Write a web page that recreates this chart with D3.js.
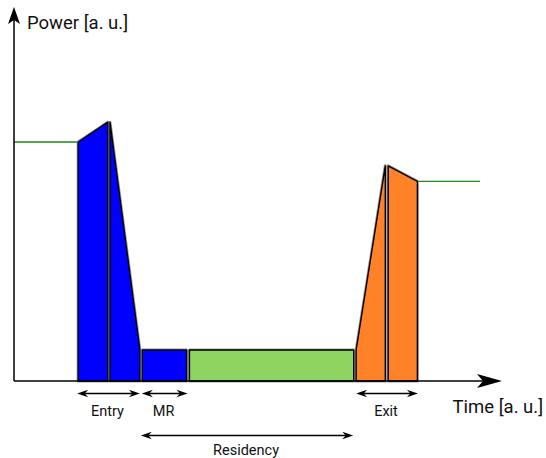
<!DOCTYPE html>
<html>
<head>
<meta charset="utf-8">
<script src="https://cdn.jsdelivr.net/npm/d3@7"></script>
<style>
  html, body { margin: 0; padding: 0; background: #fff; }
  svg { display: block; font-family: Roboto, "Noto Sans", sans-serif; }
</style>
</head>
<body>
<svg id="chart" width="546" height="458"></svg>
<script>
// ---- data (arbitrary units: time 0..100, power 0..100) ----
const phaseNames   = ["Entry 1", "Entry 2", "MR", "Residency", "Exit 1", "Exit 2"];
const phaseStart   = [13.2, 19.75, 26.4, 36.1, 70.4, 77.0];
const phaseEnd     = [19.3, 25.9, 35.5, 69.9, 76.4, 83.0];
const powerStart   = [66.2, 71.7, 8.6, 8.6, 8.6, 59.6];
const powerEnd     = [71.7, 8.6, 8.6, 8.6, 59.6, 55.3];
const phaseColor   = ["#0000ff", "#0000ff", "#0000ff", "#8fd460", "#ff8128", "#ff8128"];

const idleStart = [0, 83.0];
const idleEnd   = [13.2, 95.9];
const idlePower = [66.2, 55.3];

const spanLabels = ["Entry", "MR", "Residency", "Exit"];
const spanStart  = [13.0, 26.3, 26.1, 70.4];
const spanEnd    = [25.9, 35.7, 69.8, 83.1];
const spanRow    = [0, 0, 1, 0];

const axisLabels = ["Time [a. u.]", "Power [a. u.]"];

// ---- scales ----
const svg = d3.select("#chart");
const x = d3.scaleLinear().domain([0, 100]).range([14, 500]);
const y = d3.scaleLinear().domain([0, 100]).range([381, 20]);
const rowY = d3.scalePoint().domain([0, 1]).range([393.5, 435.5]);
const labelY = d3.scalePoint().domain([0, 1]).range([416, 454.5]);

// ---- idle lines ----
svg.selectAll("line.idle").data(idleStart).join("line")
  .attr("class", "idle")
  .attr("x1", (d, i) => x(d)).attr("x2", (d, i) => x(idleEnd[i]))
  .attr("y1", (d, i) => y(idlePower[i])).attr("y2", (d, i) => y(idlePower[i]))
  .attr("stroke", "#1a8a1a").attr("stroke-width", 1.4);

// ---- phase polygons ----
const polys = phaseNames.map((n, i) => [
  [x(phaseStart[i]), y(0)],
  [x(phaseStart[i]), y(powerStart[i])],
  [x(phaseEnd[i]), y(powerEnd[i])],
  [x(phaseEnd[i]), y(0)]
]);
const line = d3.line();
svg.selectAll("path.halo").data(polys).join("path")
  .attr("class", "halo")
  .attr("d", d => line(d) + "Z")
  .attr("fill", "none").attr("stroke", "#9a9a9a").attr("stroke-width", 3).attr("stroke-linejoin", "round");
svg.selectAll("path.phase").data(polys).join("path")
  .attr("class", "phase")
  .attr("d", d => line(d) + "Z")
  .attr("fill", (d, i) => phaseColor[i])
  .attr("stroke", "#000").attr("stroke-width", 1.4).attr("stroke-linejoin", "round");

// ---- axes with arrowheads ----
function arrowHead(tx, ty, dx, dy, len, half, notch) {
  const px = -dy, py = dx;
  const bx = tx - dx * len, by = ty - dy * len;
  const nx = tx - dx * (len - notch), ny = ty - dy * (len - notch);
  return `M${tx},${ty}L${bx + px * half},${by + py * half}L${nx},${ny}L${bx - px * half},${by - py * half}Z`;
}

svg.append("line")
  .attr("x1", x(0)).attr("x2", x(0)).attr("y1", y(0)).attr("y2", y(100) - 6)
  .attr("stroke", "#000").attr("stroke-width", 1.5);
svg.append("path").attr("d", arrowHead(x(0), y(100) - 13, 0, -1, 17, 6, 4)).attr("fill", "#000");

svg.append("line")
  .attr("x1", x(0)).attr("x2", x(100) - 6).attr("y1", y(0)).attr("y2", y(0))
  .attr("stroke", "#000").attr("stroke-width", 1.5);
svg.append("path").attr("d", arrowHead(x(100) + 2, y(0), 1, 0, 25, 7, 6)).attr("fill", "#000");

svg.append("text").attr("x", x(0) + 13).attr("y", 29)
  .attr("font-size", 18.5).attr("fill", "#111").text(axisLabels[1]);
svg.append("text").attr("x", 452.5).attr("y", 413)
  .attr("font-size", 18.5).attr("fill", "#111").text(axisLabels[0]);

// ---- span annotations (double arrows) ----
const spans = svg.selectAll("g.span").data(spanLabels).join("g").attr("class", "span");
spans.append("line")
  .attr("x1", (d, i) => x(spanStart[i]) + 4).attr("x2", (d, i) => x(spanEnd[i]) - 4)
  .attr("y1", (d, i) => rowY(spanRow[i])).attr("y2", (d, i) => rowY(spanRow[i]))
  .attr("stroke", "#000").attr("stroke-width", 1.4);
spans.append("path")
  .attr("d", (d, i) => arrowHead(x(spanStart[i]), rowY(spanRow[i]), -1, 0, 11, 3.8, 3.5))
  .attr("fill", "#000");
spans.append("path")
  .attr("d", (d, i) => arrowHead(x(spanEnd[i]), rowY(spanRow[i]), 1, 0, 11, 3.8, 3.5))
  .attr("fill", "#000");
spans.append("text")
  .attr("x", (d, i) => (x(spanStart[i]) + x(spanEnd[i])) / 2 - 1)
  .attr("y", (d, i) => labelY(spanRow[i]))
  .attr("text-anchor", "middle").attr("font-size", 14.5).attr("fill", "#111")
  .text(d => d);
</script>
</body>
</html>
